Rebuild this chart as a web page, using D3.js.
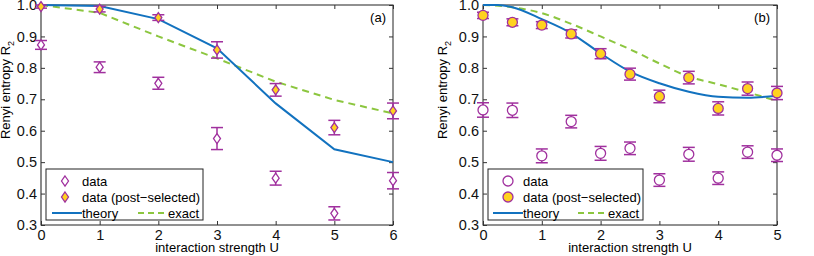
<!DOCTYPE html>
<html>
<head>
<meta charset="utf-8">
<script src="https://cdn.jsdelivr.net/npm/d3@7"></script>
<style>
  body { margin: 0; background: #fff; }
  text { font-family: "Liberation Sans", Arial, sans-serif; }
</style>
</head>
<body>
<div id="chart"></div>
<script>
// ---- panel (a) data ----
var uA = [0, 1, 2, 3, 4, 5, 6]
var dataA = [0.873, 0.802, 0.751, 0.575, 0.449, 0.337, 0.441]
var dataErrA = [0.014, 0.017, 0.019, 0.035, 0.022, 0.021, 0.026]
var postA = [0.995, 0.987, 0.960, 0.857, 0.730, 0.610, 0.663]
var postErrA = [0.005, 0.009, 0.009, 0.026, 0.020, 0.023, 0.025]
var theoryA = [1.0, 0.997, 0.955, 0.862, 0.687, 0.541, 0.500]
var exactA = [1.0, 0.975, 0.900, 0.830, 0.756, 0.698, 0.655]

// ---- panel (b) data ----
var uB = [0, 0.5, 1, 1.5, 2, 2.5, 3, 3.5, 4, 4.5, 5]
var dataB = [0.666, 0.665, 0.520, 0.629, 0.528, 0.544, 0.443, 0.525, 0.449, 0.532, 0.522]
var dataErrB = [0.023, 0.023, 0.022, 0.020, 0.022, 0.020, 0.020, 0.022, 0.020, 0.020, 0.020]
var postB = [0.967, 0.945, 0.936, 0.908, 0.845, 0.780, 0.709, 0.769, 0.671, 0.734, 0.720]
var postErrB = [0.010, 0.011, 0.011, 0.013, 0.016, 0.019, 0.020, 0.020, 0.021, 0.021, 0.021]
var theoryUB = [0, 0.25, 0.5, 1, 1.5, 2, 2.5, 3, 3.5, 4, 4.5, 5]
var theoryB = [1.0, 1.0, 0.993, 0.955, 0.910, 0.846, 0.788, 0.751, 0.724, 0.708, 0.705, 0.711]
var exactB = [1.0, 0.993, 0.974, 0.940, 0.900, 0.859, 0.814, 0.772, 0.748, 0.722, 0.695]

var yTicks = [0.3, 0.4, 0.5, 0.6, 0.7, 0.8, 0.9, 1.0]

var purple = "#a0309e", yellow = "#ffd21f", blue = "#1272bf", green = "#8cc63f"

var svg = d3.select("#chart").append("svg")
  .attr("width", 814)
  .attr("height", 256)

function panel(opt) {
  var width = opt.right - opt.left, height = 220
  var g = svg.append("g").attr("transform", "translate(" + opt.left + ",5)")

  var x = d3.scaleLinear().domain(opt.xDomain).range([0, width])
  var y = d3.scaleLinear().domain([0.3, 1.0]).range([height, 0])

  // frame
  g.append("rect").attr("width", width).attr("height", height)
    .attr("fill", "none").attr("stroke", "#222").attr("stroke-width", 1)
  if (opt.grayLeft) {
    g.append("line").attr("x1", 0).attr("x2", 0).attr("y1", 0).attr("y2", height)
      .attr("stroke", "#888").attr("stroke-width", 1.2)
  }

  // axes with inward ticks
  var xt = d3.range(opt.xDomain[0], opt.xDomain[1] + 1)
  g.append("g").attr("transform", "translate(0," + height + ")")
    .call(d3.axisBottom(x).tickValues(xt).tickSizeInner(-4).tickSizeOuter(0).tickPadding(5).tickFormat(d3.format("d")))
  g.append("g")
    .call(d3.axisTop(x).tickValues(xt).tickSizeInner(-4).tickSizeOuter(0).tickFormat(""))
  g.append("g")
    .call(d3.axisLeft(y).tickValues(yTicks).tickSizeInner(-4).tickSizeOuter(0).tickPadding(4).tickFormat(d3.format(".1f")))
  g.append("g").attr("transform", "translate(" + width + ",0)")
    .call(d3.axisRight(y).tickValues(yTicks).tickSizeInner(-4).tickSizeOuter(0).tickFormat(""))
  g.selectAll(".domain").remove()
  g.selectAll(".tick line").attr("stroke", "#333")
  g.selectAll(".tick text").attr("font-size", 14.5).attr("fill", "#111")

  var clip = g.append("g")

  // theory & exact
  var line = d3.line().x(function(d) { return x(d[0]) }).y(function(d) { return y(d[1]) })
    .curve(opt.smooth ? d3.curveMonotoneX : d3.curveLinear)
  clip.append("path").datum(d3.zip(opt.exactU, opt.exact))
    .attr("d", line).attr("fill", "none").attr("stroke", green)
    .attr("stroke-width", 2).attr("stroke-dasharray", "7,5")
  clip.append("path").datum(d3.zip(opt.theoryU, opt.theory))
    .attr("d", line).attr("fill", "none").attr("stroke", blue).attr("stroke-width", 2)

  // error bars
  function errbars(vals, errs) {
    var eb = clip.append("g").selectAll("g").data(d3.zip(opt.u, vals, errs)).enter().append("g")
      .attr("stroke", purple).attr("stroke-width", 1.5)
    eb.append("line").attr("x1", function(d) { return x(d[0]) }).attr("x2", function(d) { return x(d[0]) })
      .attr("y1", function(d) { return y(d[1] - d[2]) }).attr("y2", function(d) { return y(d[1] + d[2]) })
    eb.append("line").attr("x1", function(d) { return x(d[0]) - 6 }).attr("x2", function(d) { return x(d[0]) + 6 })
      .attr("y1", function(d) { return y(d[1] - d[2]) }).attr("y2", function(d) { return y(d[1] - d[2]) })
    eb.append("line").attr("x1", function(d) { return x(d[0]) - 6 }).attr("x2", function(d) { return x(d[0]) + 6 })
      .attr("y1", function(d) { return y(d[1] + d[2]) }).attr("y2", function(d) { return y(d[1] + d[2]) })
  }
  errbars(opt.data, opt.dataErr)
  errbars(opt.post, opt.postErr)

  function marker(sel, filled) {
    if (opt.shape === "diamond") {
      sel.append("path").attr("d", "M0,-5L3.5,0L0,5L-3.5,0Z")
    } else {
      sel.append("circle").attr("r", 5)
    }
    sel.select(":last-child").attr("fill", filled ? yellow : "#fff")
      .attr("stroke", purple).attr("stroke-width", 1.3)
  }
  clip.append("g").selectAll("g").data(d3.zip(opt.u, opt.data)).enter().append("g")
    .attr("transform", function(d) { return "translate(" + x(d[0]) + "," + y(d[1]) + ")" })
    .each(function() { marker(d3.select(this), false) })
  clip.append("g").selectAll("g").data(d3.zip(opt.u, opt.post)).enter().append("g")
    .attr("transform", function(d) { return "translate(" + x(d[0]) + "," + y(d[1]) + ")" })
    .each(function() { marker(d3.select(this), true) })

  // panel tag
  g.append("text").attr("x", width - 7).attr("y", 17).attr("text-anchor", "end")
    .attr("font-size", 13).text(opt.tag)

  // axis labels
  g.append("text").attr("x", width / 2).attr("y", height + 27).attr("text-anchor", "middle")
    .attr("font-size", 13).text("interaction strength U")
  var yl = g.append("text").attr("transform", "translate(" + opt.yLabelX + "," + (height / 2 - 25) + ") rotate(-90)")
    .attr("text-anchor", "middle").attr("font-size", 13)
  yl.append("tspan").text("Renyi entropy R")
  yl.append("tspan").attr("font-size", 9).attr("dy", 4).text("2")

  // legend
  var lg = g.append("g").attr("transform", "translate(" + opt.legX + ",164)")
  lg.append("rect").attr("width", opt.legW).attr("height", 51)
    .attr("fill", "#fff").attr("stroke", "#222").attr("stroke-width", 1)
  var m1 = lg.append("g").attr("transform", "translate(" + opt.legMarkX + ",12)")
  marker(m1, false)
  var m2 = lg.append("g").attr("transform", "translate(" + opt.legMarkX + ",28)")
  marker(m2, true)
  lg.append("text").attr("x", opt.legTextX).attr("y", 17).attr("font-size", 13).text("data")
  lg.append("text").attr("x", opt.legTextX).attr("y", 33).attr("font-size", 13).text("data (post\u2212selected)")
  lg.append("line").attr("x1", opt.legTextX - 30).attr("x2", opt.legTextX).attr("y1", 44).attr("y2", 44)
    .attr("stroke", blue).attr("stroke-width", 2)
  lg.append("text").attr("x", opt.legTextX).attr("y", 49).attr("font-size", 13).text("theory")
  lg.append("line").attr("x1", opt.legExactX - 30).attr("x2", opt.legExactX - 1).attr("y1", 44).attr("y2", 44)
    .attr("stroke", green).attr("stroke-width", 2).attr("stroke-dasharray", "6,4")
  lg.append("text").attr("x", opt.legExactX).attr("y", 49).attr("font-size", 13).text("exact")
}

panel({
  left: 41, right: 393, xDomain: [0, 6], tag: "(a)", shape: "diamond", smooth: false, grayLeft: true,
  u: uA, data: dataA, dataErr: dataErrA, post: postA, postErr: postErrA,
  theoryU: uA, theory: theoryA, exactU: uA, exact: exactA,
  yLabelX: -31, legX: 5, legW: 157, legMarkX: 19, legTextX: 36, legExactX: 122
})

panel({
  left: 483, right: 777, xDomain: [0, 5], tag: "(b)", shape: "circle", smooth: true, grayLeft: false,
  u: uB, data: dataB, dataErr: dataErrB, post: postB, postErr: postErrB,
  theoryU: theoryUB, theory: theoryB, exactU: uB, exact: exactB,
  yLabelX: -36, legX: 5, legW: 155, legMarkX: 20, legTextX: 35, legExactX: 120
})
</script>
</body>
</html>
